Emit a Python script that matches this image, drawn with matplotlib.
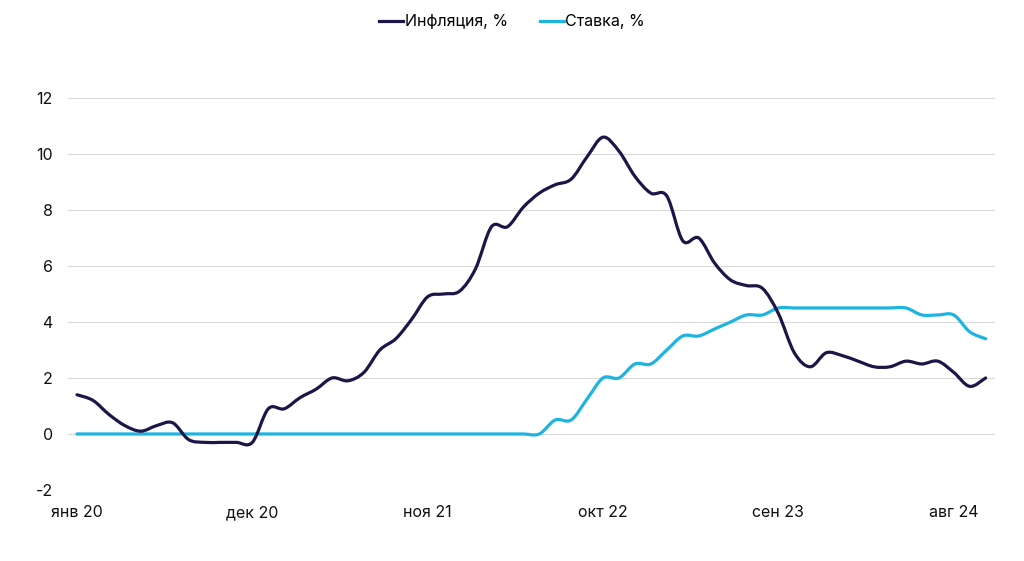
import matplotlib.pyplot as plt
import numpy as np
from matplotlib.path import Path
from matplotlib.patches import PathPatch

plt.rcParams['font.family'] = ['Inter', 'DejaVu Sans']

# monthly values, Jan 2020 .. Oct 2024
inflation = [1.4, 1.2, 0.7, 0.3, 0.1, 0.3, 0.4, -0.2, -0.3, -0.3, -0.3, -0.3,
             0.9, 0.9, 1.3, 1.6, 2.0, 1.9, 2.2, 3.0, 3.4, 4.1, 4.9, 5.0,
             5.1, 5.9, 7.4, 7.4, 8.1, 8.6, 8.9, 9.1, 9.9, 10.6, 10.1, 9.2,
             8.6, 8.5, 6.9, 7.0, 6.1, 5.5, 5.3, 5.2, 4.3, 2.9, 2.4, 2.9,
             2.8, 2.6, 2.4, 2.4, 2.6, 2.5, 2.6, 2.2, 1.7, 2.0]
rate = [0.0] * 30 + [0.5, 0.5, 1.25, 2.0, 2.0, 2.5,
                     2.5, 3.0, 3.5, 3.5, 3.75, 4.0, 4.25, 4.25, 4.5, 4.5, 4.5, 4.5,
                     4.5, 4.5, 4.5, 4.5, 4.5, 4.25, 4.25, 4.25, 3.65, 3.4]

tick_pos = [0, 11, 22, 33, 44, 55]
tick_labels = ['янв 20', 'дек 20', 'ноя 21', 'окт 22', 'сен 23', 'авг 24']
y_ticks = [-2, 0, 2, 4, 6, 8, 10, 12]

navy = '#1c1548'
cyan = '#1db4e0'


def smooth_path(x, y):
    # catmull-rom through the points, as cubic bezier segments
    p = np.column_stack([x, y]).astype(float)
    ext = np.vstack([p[0], p, p[-1]])
    verts = [p[0]]
    codes = [Path.MOVETO]
    for i in range(len(p) - 1):
        p0, p1, p2, p3 = ext[i], ext[i + 1], ext[i + 2], ext[i + 3]
        c1 = p1 + (p2 - p0) / 6
        c2 = p2 - (p3 - p1) / 6
        verts += [c1, c2, p2]
        codes += [Path.CURVE4] * 3
    return Path(verts, codes)


fig = plt.figure(figsize=(10.24, 5.61), dpi=100)
ax = fig.add_axes([0.0664, 0.1266, 0.9053, 0.6988])

x = np.arange(len(inflation))
ax.add_patch(PathPatch(smooth_path(x, rate), fill=False, ec=cyan, lw=2.3,
                       capstyle='round', zorder=3))
ax.add_patch(PathPatch(smooth_path(x, inflation), fill=False, ec=navy, lw=2.3,
                       capstyle='round', zorder=4))

# legend handles
ax.plot([], [], color=navy, lw=2.3, label='Инфляция, %')
ax.plot([], [], color=cyan, lw=2.3, label='Ставка, %')

ax.set_xlim(-0.565, 57.59)
ax.set_ylim(-2, 12)
ax.set_yticks(y_ticks)
ax.set_yticklabels([str(v) for v in y_ticks])
ax.set_xticks(tick_pos)
ax.set_xticklabels(tick_labels)
ax.grid(axis='y', color='#d9d9d9', lw=0.8)
ax.set_axisbelow(True)
for s in ax.spines.values():
    s.set_visible(False)
ax.tick_params(length=0, labelsize=11.5, colors='#111111')
ax.tick_params(axis='y', pad=11)
ax.tick_params(axis='x', pad=11)

fig.legend(loc='upper center', bbox_to_anchor=(0.5, 1.0), ncol=2, frameon=False,
           fontsize=11.5, handlelength=1.5, handletextpad=0.1, columnspacing=2.0)

fig.savefig('out.png', dpi=100)
